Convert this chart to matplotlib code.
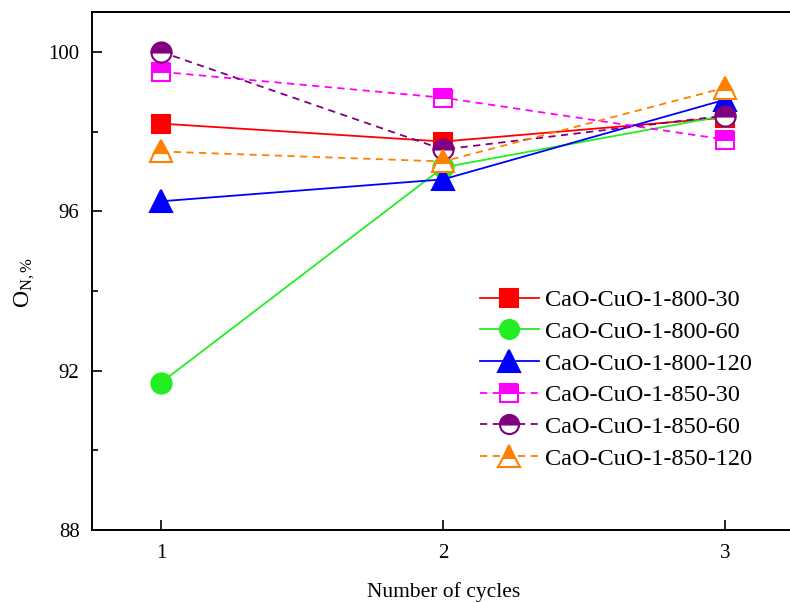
"""Oxygen utilisation O_N versus number of cycles for CaO-CuO samples."""

import matplotlib
matplotlib.use("Agg")
import matplotlib.pyplot as plt

CYCLES = [1, 2, 3]

LABELS = [
    "CaO-CuO-1-800-30",
    "CaO-CuO-1-800-60",
    "CaO-CuO-1-800-120",
    "CaO-CuO-1-850-30",
    "CaO-CuO-1-850-60",
    "CaO-CuO-1-850-120",
]

ON_800_30 = [98.2, 97.75, 98.35]
ON_800_60 = [91.7, 97.1, 98.4]
ON_800_120 = [96.25, 96.8, 98.8]
ON_850_30 = [99.5, 98.85, 97.8]
ON_850_60 = [100.0, 97.55, 98.4]
ON_850_120 = [97.5, 97.25, 99.1]

VALUES = [ON_800_30, ON_800_60, ON_800_120, ON_850_30, ON_850_60, ON_850_120]

STYLES = [
    dict(color="#ff0000", marker="s", ls="-", fill="full", ms=13.5),
    dict(color="#22ee22", marker="o", ls="-", fill="full", ms=14.5),
    dict(color="#0000ff", marker="^", ls="-", fill="full", ms=16),
    dict(color="#ff00ff", marker="s", ls=(0, (4, 3)), fill="top", ms=13.5),
    dict(color="#800080", marker="o", ls=(0, (4, 3)), fill="top", ms=14.5),
    dict(color="#ff8000", marker="^", ls=(0, (4, 3)), fill="top", ms=16),
]

plt.rcParams.update(
    {
        "font.family": "Liberation Serif",
        "mathtext.fontset": "custom",
        "mathtext.rm": "Liberation Serif",
        "mathtext.it": "Liberation Serif:italic",
        "font.size": 15,
    }
)

fig = plt.figure(figsize=(7.9, 6.02), dpi=100)
ax = fig.add_axes([0.1165, 0.1196, 0.8905, 0.8604])

for label, vals, st in zip(LABELS, VALUES, STYLES):
    ax.plot(
        CYCLES,
        vals,
        label=label,
        color=st["color"],
        linestyle=st["ls"],
        linewidth=1.3,
        marker=st["marker"],
        markersize=st["ms"],
        fillstyle=st["fill"],
        markerfacecolor=st["color"],
        markerfacecoloralt="white",
        markeredgecolor=st["color"],
        markeredgewidth=1.5,
    )

ax.set_xlim(0.755, 3.25)
ax.set_ylim(88, 101)
ax.set_xticks(CYCLES)
ax.set_yticks([88, 92, 96, 100])
ax.set_yticks([90, 94, 98], minor=True)
ax.tick_params(axis="both", which="both", direction="in", labelsize=15)
ax.tick_params(axis="both", which="major", length=7, width=1.2)
ax.tick_params(axis="y", which="minor", length=4, width=1.2)
ax.tick_params(axis="x", pad=10)
ax.tick_params(axis="y", pad=9)
ax.spines["right"].set_visible(False)
for side in ["left", "bottom", "top"]:
    ax.spines[side].set_linewidth(1.4)

ax.set_xlabel("Number of cycles", fontsize=15.5)
ax.xaxis.set_label_coords(0.5, -0.1)
ax.set_ylabel(r"O$_{\mathrm{N,\%}}$", fontsize=17)
ax.yaxis.set_label_coords(-0.078, 0.477)

ax.legend(
    loc="upper left",
    bbox_to_anchor=(0.538, 0.484),
    frameon=False,
    fontsize=17.5,
    handlelength=2.4,
    handletextpad=0.25,
    labelspacing=0.4,
    borderaxespad=0.0,
    markerscale=0.95,
)

fig.savefig("out.png", dpi=100)
